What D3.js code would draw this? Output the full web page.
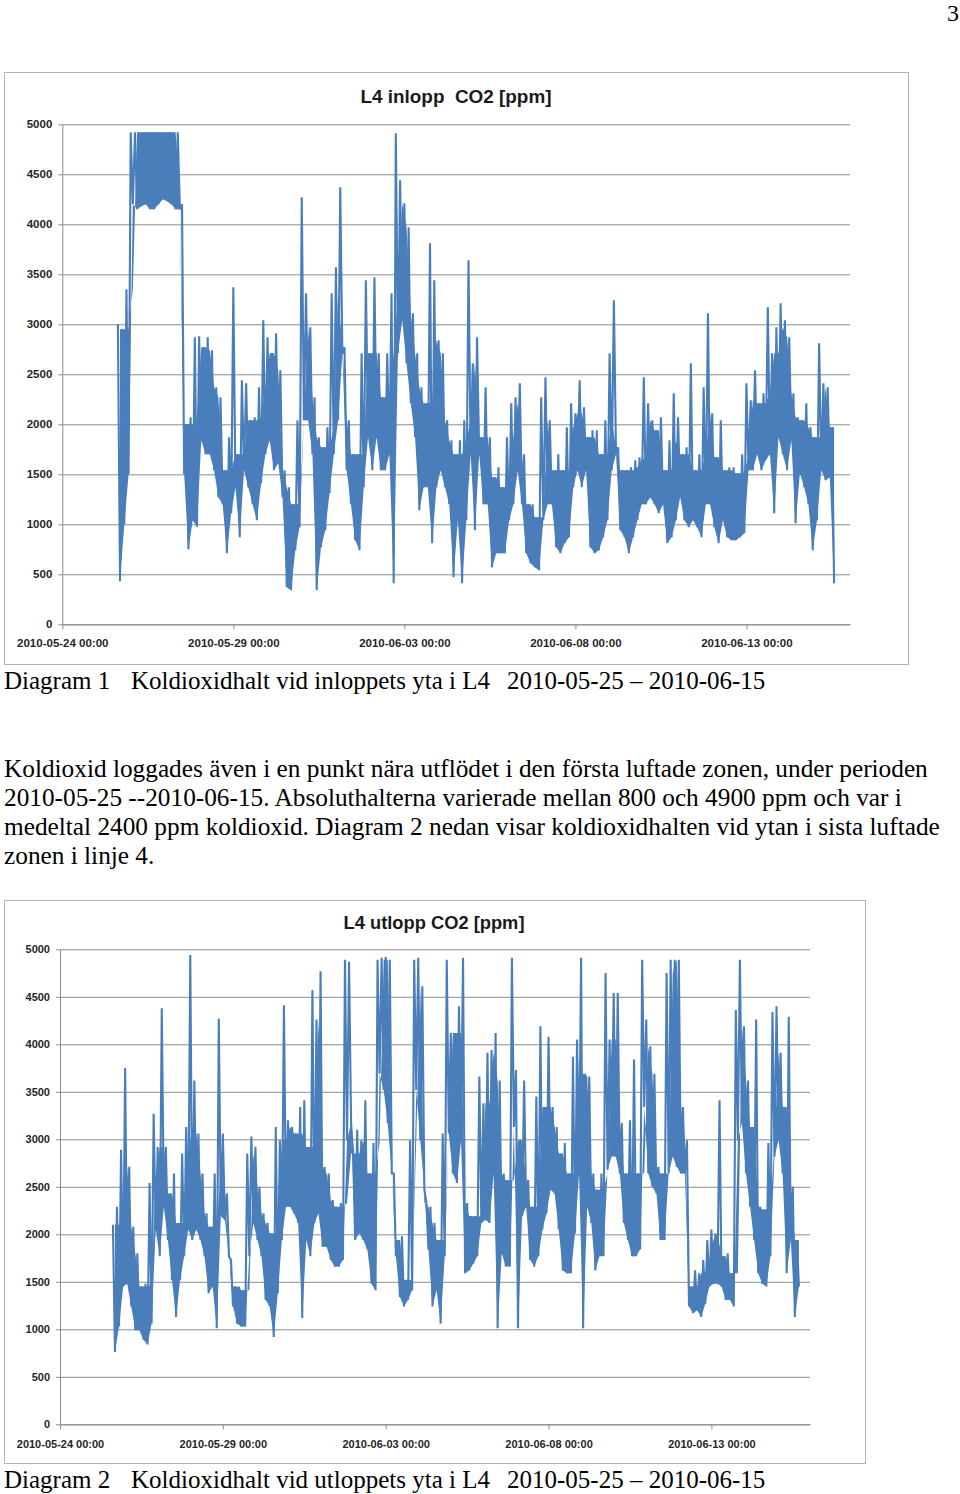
<!DOCTYPE html>
<html>
<head>
<meta charset="utf-8">
<script src="https://cdnjs.cloudflare.com/ajax/libs/d3/7.8.5/d3.min.js"></script>
<style>
body { margin: 0; background: #fff; }
svg { display: block; }
</style>
</head>
<body>
<svg id="page" width="960" height="1494"></svg>
<script>
// readings taken every 3 hours from 2010-05-25 15:00, [hi] then [lo] inside each slot
var firstSlot = new Date(2010, 4, 25, 15, 0),
	slotHours = 3;

var tickDates = [new Date(2010,4,24), new Date(2010,4,29), new Date(2010,5,3), new Date(2010,5,8), new Date(2010,5,13)];
var axisEnd = new Date(2010, 5, 16, 0, 40);
var yTicks = [0, 500, 1000, 1500, 2000, 2500, 3000, 3500, 4000, 4500, 5000];

var inloppHi = [3000,2950,3350,4920,4920,4920,4920,4920,4920,4920,4920,4920,4920,4920,4920,4200,2000,2070,2870,2880,
	2770,2870,2740,2370,2270,1540,1870,3370,1700,2440,2410,2040,2070,2370,3040,2870,2710,2910,2540,1540,
	1370,1200,2040,4270,3310,2970,2270,1870,1770,1970,3310,3570,4370,2770,2040,1700,1700,2710,3440,2710,
	3470,2710,2270,2710,3310,4910,4440,4210,3970,3110,2710,2370,2210,3810,3440,2840,2710,2040,1840,1700,
	1840,2040,3640,2610,2870,1870,2370,1870,1470,1570,1370,1870,2210,2270,2410,1700,1200,1200,1070,2270,
	2470,2040,1540,1700,1540,1970,2210,2110,2440,2170,1870,1940,1940,1700,2040,2710,3240,1770,1540,1540,
	1570,1640,1670,2470,2210,2040,1940,2070,1540,1840,2310,2070,1700,1770,2610,1540,1700,2370,3110,2110,
	1670,2040,1540,1570,1570,1510,1700,2410,2240,2540,2210,2310,3170,2710,2970,3210,3040,2870,2310,2070,
	2040,2210,1970,1870,2810,2410,2370,1970];
var inloppLo = [430,1000,1500,4200,4150,4180,4200,4150,4150,4200,4250,4230,4200,4150,4150,1500,750,1040,975,1840,
	1700,1700,1540,1270,1200,710,1110,1370,870,1540,1370,1200,1040,1410,1700,1840,1540,1610,1270,370,
	340,740,970,2040,2040,1700,340,770,940,1310,1700,2040,2710,1540,1200,840,740,1370,1870,1540,
	1870,1540,1540,1700,410,2710,3040,2610,2210,1870,1140,1370,1370,810,1370,1540,1370,1200,470,1040,
	410,1040,1700,940,1700,1200,1200,570,710,710,710,1040,1200,1540,1200,710,610,570,540,1040,
	1200,1200,770,710,810,870,1370,1540,1370,1540,770,710,740,870,1040,1540,1700,940,870,710,
	870,1040,1200,1200,1270,1200,1110,1200,810,870,1040,1270,1040,970,1040,970,870,1200,1200,970,
	810,1040,870,840,840,870,910,1540,1540,1700,1540,1640,1700,1110,1870,1700,1540,1840,1010,1510,
	1370,1200,740,1040,1540,1440,1470,410];

var utloppHi = [2100,2290,2890,3750,2710,2080,1800,1450,1480,2540,3270,2920,4380,2920,2430,2640,2120,2850,3130,4940,
	3620,3060,2640,2220,2080,2640,4270,3060,2430,1730,1450,1450,1410,2850,3030,2920,2500,2220,2120,2010,
	3130,2990,4410,3200,3130,3060,3340,3410,2920,4570,4260,4770,2710,2640,2360,2290,2330,4890,4870,2850,
	3100,2990,3410,2640,2960,4890,4910,4920,4890,2640,1940,1980,1520,2990,4890,4910,4610,2330,2290,2120,
	1940,3060,4890,4120,4120,4400,4910,2330,2190,2190,3660,3380,3910,3940,4120,3620,2640,2570,4910,3730,
	2990,3620,2570,2290,3450,4190,3340,4080,3340,3130,2850,2960,2640,3870,4050,4910,3690,3660,2640,2470,
	2640,4750,4050,4540,4540,3170,2640,3200,3840,2640,4890,4260,3980,3690,2710,2640,4750,4890,4890,4890,
	3340,2990,1450,1620,1590,1730,1940,2050,2010,3410,1770,1800,1590,4360,4890,4190,3620,3130,4260,2290,
	2260,2960,4340,4400,3910,3340,4290,2500,1940];
var utloppLo = [760,1030,1450,1480,1240,990,990,890,840,1060,2050,1770,2290,1940,1520,1130,1520,1770,2050,1940,
	2050,1940,1770,1380,1450,1010,2190,2150,1770,1240,1060,1030,1030,1770,2120,1940,1770,1310,1240,920,
	1380,1940,2290,2290,2220,2120,1120,1940,1770,2120,2220,1870,1870,1730,1660,1660,1730,2990,3170,1940,
	2010,1940,1840,1480,1410,3690,3520,3170,2640,1770,1340,1240,1310,1410,3520,2990,2470,1840,1240,1410,
	1060,1770,3060,2640,2540,2990,1590,1620,1690,1770,2120,2150,2120,2640,1010,1800,1660,1660,3130,1010,
	2190,2290,1730,1660,1770,2050,2220,2470,2430,2050,1620,1590,1590,2010,2640,1010,2290,2120,1620,1770,
	1770,2680,2820,2820,2640,2120,1940,1770,1770,1840,3340,2640,2500,2430,1940,1940,2640,2820,2710,2640,
	2640,1240,1170,1200,1130,1270,1450,1480,1480,1450,1310,1310,1240,2990,3170,2640,2290,1940,1590,1480,
	1450,1770,2820,2990,2640,1590,1940,1130,1450];

var paragraph = [
	"Koldioxid loggades även i en punkt nära utflödet i den första luftade zonen, under perioden",
	"2010-05-25 --2010-06-15. Absoluthalterna varierade mellan 800 och 4900 ppm och var i",
	"medeltal 2400 ppm koldioxid. Diagram 2 nedan visar koldioxidhalten vid ytan i sista luftade",
	"zonen i linje 4."
];

var blue = "#4a7ebb";
var svg = d3.select("#page");
svg.append("rect").attr("width", 960).attr("height", 1494).attr("fill", "#fff");

drawChart({
	frame: [4.5, 72.5, 904, 592],
	left: 62.3, right: 850, top: 124.3, bottom: 624.3,
	title: "L4 inlopp  CO2 [ppm]", titleX: 456, titleY: 103, titleSize: 18.5, titleLen: 191,
	font: 11.5, pad: 10, hi: inloppHi, lo: inloppLo
});
drawChart({
	frame: [4.5, 900.5, 861, 563],
	left: 60, right: 810, top: 949.3, bottom: 1424.3,
	title: "L4 utlopp CO2 [ppm]", titleX: 434, titleY: 929, titleSize: 17.8, titleLen: 181,
	font: 11, pad: 11, hi: utloppHi, lo: utloppLo
});

caption(689, "Diagram 1", "Koldioxidhalt vid inloppets yta i L4", "2010-05-25 \u2013 2010-06-15");
caption(1488, "Diagram 2", "Koldioxidhalt vid utloppets yta i L4", "2010-05-25 \u2013 2010-06-15");

svg.selectAll("text.para").data(paragraph).enter().append("text")
	.attr("class", "para")
	.attr("x", 4)
	.attr("y", function(d, i){ return 777 + i*29; })
	.style("font-family", "'Liberation Serif', 'Times New Roman', serif")
	.style("font-size", "25.3px")
	.text(function(d){ return d; });

svg.append("text").attr("x", 959).attr("y", 21).attr("text-anchor", "end")
	.style("font-family", "'Liberation Serif', serif").style("font-size", "24px").text("3");

function slotTime(i, half){
	return new Date(firstSlot.getTime() + (i + (half ? 0.5 : 0))*slotHours*3600e3);
}

function slotPoints(hi, lo){
	var pts = [];
	for (var i = 0; i < hi.length; i++){
		pts.push([slotTime(i), hi[i]]);
		pts.push([slotTime(i, true), lo[i]]);
	}
	return pts;
}

function drawChart(c){
	var g = svg.append("g");
	g.append("rect")
		.attr("x", c.frame[0]).attr("y", c.frame[1])
		.attr("width", c.frame[2]).attr("height", c.frame[3])
		.attr("fill", "#fff").attr("stroke", "#b4b4b4").attr("stroke-width", 1);

	var x = d3.scaleTime().domain([tickDates[0], axisEnd]).range([c.left, c.right]);
	var y = d3.scaleLinear().domain([0, 5000]).range([c.bottom, c.top]);

	var grid = g.append("g").attr("transform", "translate(" + c.left + ",0)")
		.call(d3.axisLeft(y).tickValues(yTicks).tickSize(-(c.right - c.left)).tickFormat(""));
	grid.select(".domain").remove();
	grid.selectAll("line").attr("stroke", "#8c8c8c");

	var yAxis = g.append("g").attr("transform", "translate(" + c.left + ",0)")
		.call(d3.axisLeft(y).tickValues(yTicks).tickSize(4).tickPadding(6).tickSizeOuter(0)
			.tickFormat(d3.format("d")));
	var xAxis = g.append("g").attr("transform", "translate(0," + c.bottom + ")")
		.call(d3.axisBottom(x).tickValues(tickDates).tickSize(5).tickPadding(c.pad).tickSizeOuter(0)
			.tickFormat(d3.timeFormat("%Y-%m-%d %H:%M")));

	[yAxis, xAxis].forEach(function(a){
		a.select(".domain").attr("stroke", "#8c8c8c");
		a.selectAll("line").attr("stroke", "#8c8c8c");
		a.selectAll("text")
			.style("font-family", "'Liberation Sans', Arial, sans-serif")
			.style("font-size", c.font + "px")
			.style("font-weight", "bold")
			.attr("fill", "#262626");
	});

	// band between the slot highs and lows, then the zigzag on top for the spikes
	var band = d3.area()
		.x(function(d, i){ return x(slotTime(i, true)); })
		.y0(function(d, i){ return y(c.lo[i]); })
		.y1(function(d){ return y(Math.min(d, 5000)); });
	g.append("path").datum(c.hi.map(function(d, i){ return Math.min(d, c.hi[i-1] || d, c.hi[i+1] || d); }))
		.attr("d", band)
		.attr("fill", blue);

	var line = d3.line().x(function(d){ return x(d[0]); }).y(function(d){ return y(d[1]); });
	g.append("path").datum(slotPoints(c.hi, c.lo))
		.attr("d", line)
		.attr("fill", "none")
		.attr("stroke", blue)
		.attr("stroke-width", 2.1)
		.attr("stroke-linejoin", "miter")
		.attr("stroke-miterlimit", 2);

	g.append("text")
		.attr("x", c.titleX).attr("y", c.titleY)
		.attr("text-anchor", "middle")
		.attr("textLength", c.titleLen).attr("lengthAdjust", "spacingAndGlyphs")
		.style("white-space", "pre")
		.style("font-family", "'Liberation Sans', Arial, sans-serif")
		.style("font-size", c.titleSize + "px")
		.style("font-weight", "bold")
		.attr("fill", "#1a1a1a")
		.text(c.title);
}

function caption(yy, a, b, c){
	var style = function(t){
		t.style("font-family", "'Liberation Serif', 'Times New Roman', serif").style("font-size", "25px");
	};
	svg.append("text").attr("x", 4).attr("y", yy).call(style).text(a);
	svg.append("text").attr("x", 131).attr("y", yy).call(style).text(b);
	svg.append("text").attr("x", 507).attr("y", yy).call(style).text(c);
}
</script>
</body>
</html>
